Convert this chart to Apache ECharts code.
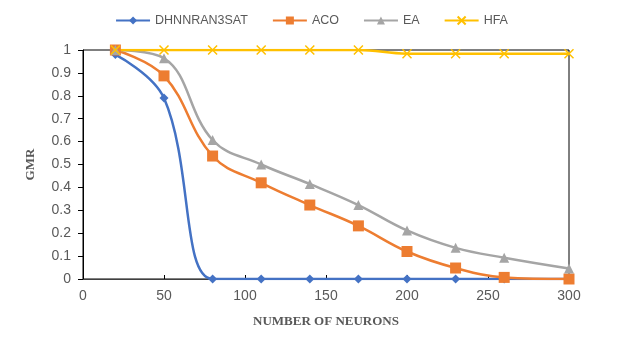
<!DOCTYPE html>
<html>
<head>
<meta charset="utf-8">
<script src="https://cdn.jsdelivr.net/npm/echarts@6/dist/echarts.min.js"></script>
<style>
    html, body { margin: 0; padding: 0; background: #fff; }
    #chart { width: 623px; height: 341px; }
</style>
</head>
<body>
<div id="chart"></div>
<script>
var neurons = [20, 50, 80, 110, 140, 170, 200, 230, 260, 300];
var dhnn = [0.98, 0.79, 0, 0, 0, 0, 0, 0, 0, 0];
var aco = [1, 0.887, 0.537, 0.42, 0.323, 0.232, 0.12, 0.048, 0.007, 0];
var ea = [1, 0.964, 0.607, 0.5, 0.415, 0.323, 0.212, 0.136, 0.093, 0.046];
var hfa = [1, 1, 1, 1, 1, 1, 0.984, 0.984, 0.984, 0.984];

function pairs(ys) {
    var out = [];
    for (var i = 0; i < neurons.length; i++) {
        out.push([neurons[i], ys[i]]);
    }
    return out;
}

var crossPath = 'path://M0,0L10,10M10,0L0,10';

function makeSeries(name, ys, color, symbol, size) {
    return {
        name: name,
        type: 'line',
        smooth: 0.4,
        symbol: symbol,
        symbolSize: size,
        data: pairs(ys),
        lineStyle: { color: color, width: 2.5 },
        itemStyle: { color: color, borderColor: color, borderWidth: symbol === crossPath ? 1.5 : 0 }
    };
}

var option = {
    animation: false,
    backgroundColor: '#fff',
    textStyle: { fontFamily: 'Liberation Sans' },
    legend: {
        top: 9,
        left: 'center',
        itemGap: 24,
        itemWidth: 34,
        itemHeight: 10,
        textStyle: { color: '#595959', fontSize: 12.5 },
        data: ['DHNNRAN3SAT', 'ACO', 'EA', 'HFA']
    },
    grid: {
        left: 83, right: 54, top: 50, bottom: 62,
        show: true,
        borderColor: '#000',
        borderWidth: 1
    },
    xAxis: {
        type: 'value',
        min: 0, max: 300, interval: 50,
        name: 'NUMBER OF NEURONS',
        nameLocation: 'middle',
        nameGap: 36,
        nameTextStyle: { fontFamily: 'Liberation Serif', fontWeight: 'bold', fontSize: 13, color: '#595959' },
        axisLine: { lineStyle: { color: '#404040', width: 1 } },
        axisTick: { inside: true, length: 4, lineStyle: { color: '#000' } },
        axisLabel: { color: '#595959', fontSize: 14, margin: 10 },
        splitLine: { show: false }
    },
    yAxis: {
        type: 'value',
        min: 0, max: 1, interval: 0.1,
        name: 'GMR',
        nameLocation: 'middle',
        nameGap: 46,
        nameRotate: 90,
        nameTextStyle: { fontFamily: 'Liberation Serif', fontWeight: 'bold', fontSize: 13, color: '#595959' },
        axisLine: { show: true, lineStyle: { color: '#000', width: 1 } },
        axisTick: { show: true, length: 5, lineStyle: { color: '#000' } },
        axisLabel: { color: '#595959', fontSize: 14, margin: 12 },
        splitLine: { show: false }
    },
    series: [
        makeSeries('DHNNRAN3SAT', dhnn, '#4472C4', 'diamond', 9),
        makeSeries('ACO', aco, '#ED7D31', 'rect', 11),
        makeSeries('EA', ea, '#A5A5A5', 'triangle', 10),
        makeSeries('HFA', hfa, '#FFC000', crossPath, 9)
    ]
};

var chart = echarts.init(document.getElementById('chart'));
chart.setOption(option);
</script>
</body>
</html>
